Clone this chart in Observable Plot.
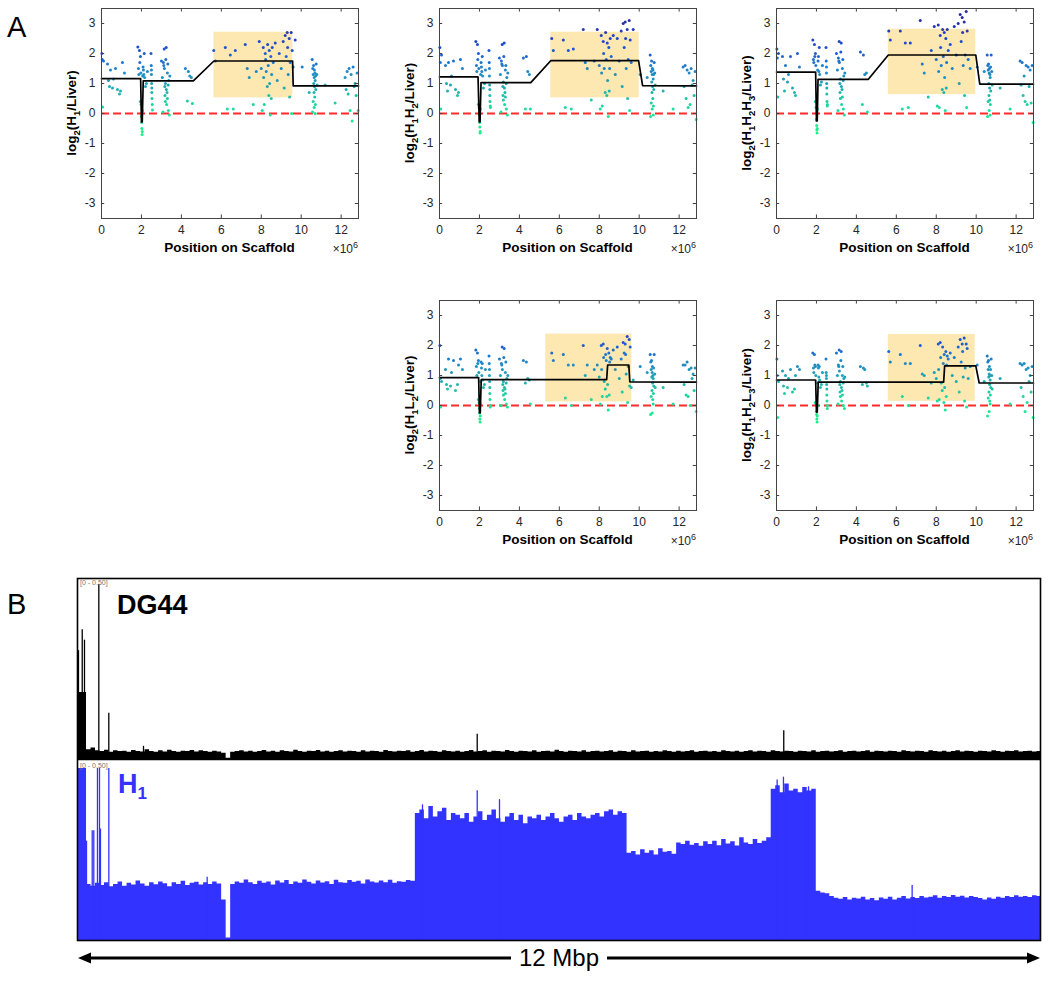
<!DOCTYPE html>
<html><head><meta charset="utf-8">
<script src="https://cdn.jsdelivr.net/npm/d3@7"></script>
<script src="https://cdn.jsdelivr.net/npm/@observablehq/plot@0.6"></script>
<style>
body{margin:0;background:#fff;}
#root{position:relative;width:1050px;height:981px;overflow:hidden;font-family:"Liberation Sans",Arial,sans-serif;background:#fff;}
</style></head><body><div id="root"></div><script>
// ---------- Panel A data ----------
const xTicks = [0, 2, 4, 6, 8, 10, 12];
const yTicks = [-3, -2, -1, 0, 1, 2, 3];
const probeX = [
 0.02,0.04,0.06,0.10,
 0.30,0.35,0.40,0.45,0.55,0.60,0.70,0.80,0.90,0.95,1.05,1.15,
 1.82,1.85,1.87,1.90,1.92,1.94,1.95,1.97,1.98,2.00,2.01,2.02,2.03,2.04,2.05,2.06,2.08,2.10,2.12,2.14,2.16,2.20,2.25,2.30,
 2.48,2.49,2.50,2.50,2.51,2.52,2.52,2.53,2.54,2.55,
 3.00,3.05,3.08,3.10,3.12,3.14,3.15,3.17,3.18,3.20,3.20,3.22,3.24,3.25,3.26,3.28,3.30,3.30,3.32,3.34,3.35,3.37,3.40,3.42,
 4.20,4.30,4.35,4.42,4.50,4.55,
 5.62,5.70,6.20,6.30,6.45,6.60,6.70,7.20,7.30,7.40,7.60,7.75,
 7.90,8.00,8.05,8.10,8.12,8.15,8.20,8.22,8.25,8.30,8.32,8.35,8.38,8.40,8.42,8.45,8.48,8.50,8.52,8.55,8.60,8.70,8.80,8.90,9.00,9.10,9.15,9.20,9.25,9.30,9.32,9.35,9.40,9.42,9.45,9.50,9.52,9.55,9.60,9.70,
 10.05,10.40,10.55,10.57,10.58,10.60,10.60,10.62,10.63,10.64,10.65,10.65,10.66,10.67,10.68,10.69,10.70,10.70,10.71,10.72,10.73,10.75,10.78,10.80,
 11.20,11.70,
 12.20,12.25,12.30,12.35,12.40,12.45,12.50,12.55,12.60,12.65,12.70,12.75,12.80,12.85
];
const yH1 = [
 2.0,1.8,0.22,1.75,
 1.65,1.1,0.9,1.45,0.85,1.15,1.5,0.8,0.65,0.75,1.7,1.35,
 2.22,1.5,1.3,2.1,1.7,0.4,1.9,1.35,0.3,-0.1,-0.3,-0.5,-0.7,-0.6,0.1,1.25,1.55,1.45,1.3,2.0,1.2,0.9,1.0,1.4,
 2.0,1.6,1.45,1.3,1.0,0.85,0.7,0.5,0.3,0.12,
 1.75,1.2,0.05,1.7,1.6,2.15,1.5,0.9,0.6,1.0,0.4,1.8,2.2,0.8,0.3,0.7,1.35,0.5,1.65,0.95,0.1,1.1,-0.05,1.25,
 1.5,0.42,1.4,1.25,1.2,0.33,
 2.1,1.75,2.2,0.15,1.95,0.15,2.1,2.3,1.5,1.2,0.3,1.4,
 2.4,1.5,0.1,2.2,1.2,0.3,2.0,1.8,1.4,0.9,2.3,1.6,0.6,2.1,1.0,-0.05,1.9,0.5,1.3,2.2,1.7,2.35,1.1,2.0,1.5,2.4,0.85,2.6,1.9,2.7,2.2,1.3,2.5,0.55,1.7,2.7,0.0,2.1,1.55,2.45,
 1.55,0.7,1.8,0.05,1.5,1.3,0.4,1.6,1.0,0.7,1.2,0.2,1.45,0.9,0.55,1.35,0.0,1.1,0.3,1.25,0.8,1.65,1.3,0.95,
 0.95,0.35,
 1.2,0.8,1.4,0.65,1.5,0.1,1.3,-0.25,1.55,0.9,1.0,0.6,1.35,0.1
];
const yH1H2 = [
 2.2,1.7,0.15,1.95,
 1.6,1.0,0.75,1.7,0.95,1.25,1.75,0.8,0.6,0.7,1.8,1.5,
 2.4,1.6,1.4,2.3,1.8,0.3,2.0,1.5,0.2,-0.05,-0.3,-0.45,-0.65,-0.6,0.15,1.3,1.7,1.55,1.4,1.9,1.25,0.85,1.0,1.45,
 2.1,1.7,1.5,1.25,0.95,0.8,0.6,0.4,0.25,0.2,
 1.85,1.3,0.05,1.75,1.65,2.3,1.6,0.9,0.6,1.05,0.45,1.9,2.35,0.85,0.3,0.7,1.45,0.55,1.6,1.0,0.15,1.2,-0.05,1.35,
 1.85,0.15,1.9,1.4,1.3,0.15,
 2.5,2.1,2.45,0.2,2.1,0.15,2.15,2.8,1.7,1.5,0.45,1.75,
 2.8,1.6,0.15,2.6,1.35,0.25,2.4,2.0,1.5,0.7,2.7,1.8,0.6,2.35,1.1,-0.1,2.2,0.75,1.5,2.5,1.9,2.6,1.3,2.5,1.75,2.75,0.9,3.0,2.2,3.05,2.5,1.5,2.8,0.5,1.8,3.1,0.1,2.45,1.7,2.8,
 1.3,1.2,1.95,-0.1,1.6,1.4,0.35,1.75,1.05,0.7,1.3,0.15,1.5,0.9,0.5,1.45,-0.05,1.15,0.25,1.3,0.8,1.7,1.35,0.95,
 0.75,0.15,
 1.55,0.9,1.6,0.5,1.45,0.2,1.35,0.3,1.5,0.95,1.1,0.6,1.4,-0.2
];
const yH1H2H3 = [
 2.15,1.85,0.55,2.0,
 1.9,1.15,0.75,1.6,1.05,1.3,1.9,0.85,0.7,0.6,2.0,1.55,
 2.45,1.8,1.7,2.3,1.9,0.4,2.0,1.6,0.2,-0.2,-0.4,-0.55,-0.65,-0.5,0.15,1.45,1.75,1.9,1.4,2.2,1.3,0.95,1.05,1.6,
 2.2,1.75,1.55,1.35,1.0,0.85,0.65,0.4,0.25,0.3,
 2.0,1.45,0.1,1.85,1.75,2.4,1.7,1.0,0.7,1.15,0.5,2.05,2.35,0.9,0.3,0.8,1.5,0.55,1.8,1.1,0.15,1.25,-0.05,1.35,
 2.05,0.3,1.95,1.3,1.35,0.05,
 2.75,2.45,2.75,0.15,2.35,0.2,2.35,3.1,1.65,1.35,0.55,2.1,
 2.9,1.8,0.25,2.95,1.4,0.2,2.6,2.2,1.6,0.8,2.8,1.9,0.7,2.7,1.2,0.1,2.5,0.85,1.7,2.8,2.1,2.3,1.5,2.9,1.95,3.0,1.0,3.3,2.4,3.2,2.7,1.6,3.05,0.6,1.95,3.4,0.2,2.75,1.8,1.5,
 1.55,1.4,1.95,-0.1,1.6,1.45,0.4,1.65,1.0,0.6,1.35,0.1,1.5,0.85,0.45,1.3,-0.05,1.2,0.3,1.55,0.75,1.95,1.4,0.95,
 0.85,0.15,
 1.75,0.95,1.7,0.6,1.25,0.4,1.6,0.3,1.55,0.9,1.45,0.35,1.6,-0.3
];
const yH1L2 = [
 2.0,0.9,-0.05,0.8,
 1.2,0.7,0.55,1.55,0.65,1.1,1.5,0.5,0.7,1.35,1.55,1.2,
 1.85,1.3,1.0,1.75,1.4,0.2,1.5,1.1,0.1,-0.1,-0.25,-0.45,-0.55,-0.35,0.05,0.8,1.45,1.25,1.0,1.4,0.85,0.6,0.7,1.2,
 1.65,1.4,1.2,1.0,0.8,0.6,0.4,0.2,-0.05,0.0,
 1.55,1.0,0.0,1.4,1.35,1.95,1.2,0.7,0.5,0.8,0.35,1.6,1.9,0.6,0.2,0.55,1.1,0.4,1.45,0.75,0.05,0.9,-0.05,1.0,
 1.5,0.75,1.45,0.9,0.85,0.05,
 1.75,1.5,1.7,0.25,1.35,0.0,1.35,2.0,1.0,1.35,0.2,1.2,
 1.35,0.95,0.05,2.0,1.2,0.3,2.05,1.6,0.8,0.55,1.7,1.5,0.3,1.9,0.7,-0.15,1.75,0.35,1.45,1.6,1.55,1.85,1.2,1.95,0.9,1.55,0.45,2.1,1.75,2.05,1.7,1.05,2.3,0.1,1.3,2.2,0.65,1.95,0.6,0.85,
 1.3,1.1,1.7,-0.3,1.45,1.2,0.3,1.5,0.95,0.5,1.1,-0.25,1.3,0.75,0.2,1.0,0.05,0.9,0.4,1.25,0.65,1.7,1.05,0.6,
 0.6,0.05,
 1.35,0.7,1.35,0.35,1.45,0.3,1.2,0.0,1.25,0.9,1.05,0.5,1.25,-0.2
];
const yH1H2L3 = [
 1.55,1.0,-0.4,0.8,
 1.15,0.65,0.4,1.0,0.6,0.9,1.2,0.45,0.55,1.0,1.3,1.2,
 1.75,1.25,1.1,1.7,1.35,0.1,1.3,1.0,0.05,-0.2,-0.3,-0.45,-0.55,-0.35,0.0,0.75,1.35,1.25,0.95,1.3,0.85,0.6,0.7,1.1,
 1.55,1.1,1.0,0.9,0.7,0.55,0.35,0.15,-0.1,0.0,
 1.75,1.0,0.05,1.35,1.3,1.85,1.15,0.7,0.45,0.8,0.3,1.5,1.8,0.6,0.15,0.5,1.0,0.35,1.3,0.75,0.0,0.9,-0.1,0.95,
 1.3,0.7,1.25,1.2,0.75,0.65,
 1.8,1.45,1.7,0.3,1.4,0.0,1.4,2.0,1.05,1.0,0.25,0.75,
 1.1,0.9,0.15,2.05,1.2,0.2,2.1,1.6,0.75,0.5,1.95,1.4,0.1,1.7,0.6,-0.15,1.8,0.3,1.35,1.65,1.55,1.75,1.0,1.6,0.8,1.95,0.45,2.2,1.45,2.05,1.8,0.95,2.25,0.15,1.25,2.05,-0.05,1.9,0.9,1.3,
 1.35,0.8,1.65,-0.35,1.45,1.2,0.25,1.5,0.95,0.45,1.05,-0.2,1.3,0.7,0.15,1.0,0.05,0.85,0.35,1.2,0.6,1.55,1.0,0.55,
 0.9,0.05,
 1.4,0.6,1.35,0.3,1.4,-0.2,1.2,0.1,1.25,0.8,1.0,0.45,1.3,-0.4
];
// segmentation lines (breakpoints, Mb / log2 ratio)
const seg1X = [0,1.96,2.0,2.04,2.09,4.6,5.63,9.57,9.6,12.87];
const seg1Y = [1.16,1.16,-0.28,-0.28,1.09,1.09,1.75,1.75,0.92,0.92];
const seg2X = [0,1.93,1.99,2.03,2.08,4.57,5.57,9.97,10.17,12.87];
const seg2Y = [1.22,1.22,-0.28,-0.28,1.03,1.03,1.76,1.76,0.93,0.92];
const seg3X = [0,1.96,2.0,2.04,2.08,4.6,5.6,9.98,10.18,12.87];
const seg3Y = [1.38,1.38,-0.25,-0.25,1.14,1.14,1.95,1.95,0.98,0.98];
const seg4X = [0,1.96,2.0,2.04,2.09,8.37,8.42,9.48,9.53,12.87];
const seg4Y = [0.93,0.93,-0.25,-0.25,0.86,0.86,1.35,1.35,0.79,0.78];
const seg5X = [0,1.96,2.0,2.04,2.09,8.37,8.42,9.98,10.15,12.87];
const seg5Y = [0.85,0.85,-0.22,-0.22,0.78,0.78,1.32,1.32,0.75,0.75];
// highlighted regions [x1, x2, y1, y2]
const box1 = [5.63, 9.58, 0.52, 2.71];
const box2 = [5.57, 10.0, 0.52, 2.71];
const box3 = [5.6, 9.98, 0.63, 2.81];
const box4 = [5.32, 9.63, 0.12, 2.38];
const box5 = [5.6, 9.95, 0.14, 2.37];
const colorDomain = [-0.6, 0.2, 0.9, 1.5, 2.2, 3.2];
const colorRange = ["#1ef08c", "#1fdc9c", "#1fa8b4", "#1f82c8", "#1f4fd2", "#2a2a9e"];

// ---------- Panel B data ----------
const BIN = 0.06; // Mb per bin
const h1Bins = [
 .5,.5,.165,.16,.168,.162,.17,.158,.165,.172,
 .16,.168,.163,.175,.166,.16,.17,.164,.172,.167,
 .158,.17,.165,.174,.162,.168,.171,.163,.17,.165,
 .172,.166,.12,.01,.165,.172,.168,.178,.17,.165,
 .174,.168,.172,.163,.175,.169,.176,.165,.172,.168,
 .178,.171,.166,.175,.169,.173,.165,.177,.17,.168,
 .176,.171,.174,.166,.178,.172,.169,.175,.17,.177,
 .168,.173,.171,.176,.174,.37,.38,.355,.39,.36,
 .375,.385,.35,.37,.365,.355,.37,.345,.36,.375,
 .35,.365,.38,.355,.345,.36,.37,.35,.365,.34,
 .36,.355,.365,.35,.36,.37,.355,.345,.36,.365,
 .35,.37,.36,.355,.365,.37,.36,.375,.38,.365,
 .375,.37,.255,.26,.25,.265,.255,.262,.25,.268,
 .258,.26,.252,.285,.28,.29,.278,.283,.275,.288,
 .28,.29,.277,.295,.282,.288,.276,.3,.285,.28,
 .295,.283,.29,.3,.44,.45,.43,.455,.435,.44,
 .43,.445,.435,.44,.145,.14,.138,.13,.125,.122,
 .127,.12,.125,.123,.128,.12,.124,.118,.126,.122,
 .128,.12,.125,.13,.123,.127,.124,.13,.126,.128,
 .132,.125,.13,.127,.133,.128,.131,.126,.13,.127,
 .124,.12,.126,.122,.128,.125,.13,.127,.132,.128,
 .13,.127,.132,.13
];
const dgBins = [
 .19,.19,.025,.03,.022,.02,.024,.018,.022,.02,
 .021,.018,.023,.02,.019,.025,.02,.018,.022,.019,
 .024,.02,.018,.021,.02,.023,.019,.022,.02,.018,
 .021,.019,.015,0,.018,.02,.022,.019,.021,.018,
 .02,.023,.019,.021,.018,.022,.02,.019,.024,.02,
 .018,.021,.02,.023,.019,.021,.018,.02,.022,.019,
 .021,.02,.018,.022,.019,.021,.02,.018,.023,.02,
 .019,.021,.02,.022,.018,.02,.023,.019,.021,.02,
 .018,.022,.02,.019,.021,.018,.02,.023,.019,.02,
 .022,.018,.021,.02,.019,.023,.02,.018,.021,.02,
 .019,.022,.018,.02,.021,.019,.024,.02,.018,.021,
 .02,.019,.022,.018,.02,.021,.019,.02,.022,.018,
 .021,.02,.018,.022,.019,.02,.021,.018,.02,.019,
 .022,.02,.018,.021,.019,.02,.022,.018,.02,.021,
 .019,.02,.018,.022,.02,.019,.021,.018,.02,.022,
 .019,.021,.02,.018,.022,.02,.019,.021,.02,.018,
 .021,.02,.019,.022,.018,.02,.021,.019,.02,.022,
 .018,.02,.021,.019,.02,.022,.018,.021,.02,.019,
 .021,.02,.018,.022,.02,.019,.021,.02,.018,.022,
 .02,.019,.021,.018,.02,.022,.019,.021,.02,.018,
 .021,.02,.019,.022,.02,.018,.021,.02,.022,.019,
 .02,.021,.019,.02
];
const dgSpikeX = [0.013, 0.063, 0.093, 0.284, 0.417, 0.879, 5.324, 9.407];
const dgSpikeV = [0.31, 0.37, 0.34, 0.5, 0.13, 0.035, 0.07, 0.08];
const h1SpikeX = [0.12, 0.196, 0.217, 0.266, 0.293, 0.306, 0.417, 1.727, 4.595, 5.324, 5.621, 9.319, 9.403, 9.737, 11.117];
const h1SpikeV = [0.29, 0.32, 0.32, 0.5, 0.5, 0.325, 0.5, 0.186, 0.395, 0.436, 0.41, 0.467, 0.475, 0.447, 0.162];

// ---------- layout ----------
const root = document.getElementById("root");
const FONT = "'Liberation Sans', Arial, Helvetica, sans-serif";
const FW = 257, FH = 210, XMAX = 12.87;
const AX = "#444";

function scatterPanel(cfg) {
  const data = probeX.map((x, i) => ({x, y: cfg.ys[i]})).filter(d => d.y != null);
  const seg = cfg.segX.map((x, i) => ({x, y: cfg.segY[i]}));
  const ml = 36, mr = 6, mt = 6, mb = 26;
  const svg = Plot.plot({
    width: FW + ml + mr, height: FH + mt + mb,
    marginLeft: ml, marginRight: mr, marginTop: mt, marginBottom: mb,
    x: {domain: [0, XMAX]},
    y: {domain: [-3.5, 3.5]},
    color: {type: "linear", domain: colorDomain, range: colorRange, clamp: true},
    style: {fontFamily: FONT, fontSize: "12px", color: "#262626", background: "transparent", overflow: "visible"},
    marks: [
      Plot.rect([cfg.box], {x1: d => d[0], x2: d => d[1], y1: d => d[2], y2: d => d[3], fill: "#fde8b2"}),
      Plot.ruleY([0], {stroke: "#ff2a2a", strokeWidth: 2, strokeDasharray: "8,4"}),
      Plot.dot(data, {x: "x", y: "y", fill: "y", r: 1.5}),
      Plot.line(seg, {x: "x", y: "y", stroke: "#000", strokeWidth: 1.7}),
      Plot.frame({stroke: AX, strokeWidth: 1}),
      Plot.ruleX(xTicks, {x: d => d, y1: -3.5, y2: -3.38, stroke: AX}),
      Plot.ruleX(xTicks, {x: d => d, y1: 3.5, y2: 3.38, stroke: AX}),
      Plot.ruleY(yTicks, {y: d => d, x1: 0, x2: 0.16, stroke: AX}),
      Plot.ruleY(yTicks, {y: d => d, x1: XMAX, x2: XMAX - 0.16, stroke: AX}),
      Plot.axisX(xTicks, {tickSize: 0, tickPadding: 7, label: null, tickFormat: d => String(d)}),
      Plot.axisY(yTicks, {tickSize: 0, tickPadding: 6, label: null, tickFormat: d => String(d)})
    ]
  });
  svg.style.position = "absolute";
  svg.style.left = (cfg.left - ml) + "px";
  svg.style.top = (cfg.top - mt) + "px";
  root.appendChild(svg);
}

const panels = [
  {left: 101, top: 8, ys: yH1, segX: seg1X, segY: seg1Y, box: box1,
   label: [["log",0],["2",1],["(H",0],["1",1],["/Liver)",0]]},
  {left: 439, top: 8, ys: yH1H2, segX: seg2X, segY: seg2Y, box: box2,
   label: [["log",0],["2",1],["(H",0],["1",1],["H",0],["2",1],["/Liver)",0]]},
  {left: 776, top: 8, ys: yH1H2H3, segX: seg3X, segY: seg3Y, box: box3,
   label: [["log",0],["2",1],["(H",0],["1",1],["H",0],["2",1],["H",0],["3",1],["/Liver)",0]]},
  {left: 439, top: 300, ys: yH1L2, segX: seg4X, segY: seg4Y, box: box4,
   label: [["log",0],["2",1],["(H",0],["1",1],["L",0],["2",1],["/Liver)",0]]},
  {left: 776, top: 300, ys: yH1H2L3, segX: seg5X, segY: seg5Y, box: box5,
   label: [["log",0],["2",1],["(H",0],["1",1],["H",0],["2",1],["L",0],["3",1],["/Liver)",0]]}
];
panels.forEach(scatterPanel);

// ---------- Panel B tracks ----------
const BMAX = h1Bins.length * BIN;
function track(cfg) {
  const pts = cfg.bins.map((v, i) => ({x: i * BIN, v}));
  pts.push({x: cfg.bins.length * BIN, v: cfg.bins[cfg.bins.length - 1]});
  const spikes = cfg.spX.map((x, i) => ({x, v: cfg.spV[i]}));
  const svg = Plot.plot({
    width: 964, height: cfg.h,
    marginLeft: 0, marginRight: 0, marginBottom: 0, marginTop: cfg.mt,
    x: {domain: [0, BMAX], axis: null},
    y: {domain: [0, 0.5], axis: null, clamp: true},
    style: {background: "transparent", overflow: "visible"},
    marks: [
      Plot.areaY(pts, {x: "x", y: "v", curve: "step-after", fill: cfg.color}),
      Plot.ruleX(spikes, {x: "x", y1: 0, y2: "v", stroke: cfg.color, strokeWidth: 1.3})
    ]
  });
  svg.style.position = "absolute";
  svg.style.left = "77px";
  svg.style.top = cfg.top + "px";
  root.appendChild(svg);
}
track({bins: dgBins, spX: dgSpikeX, spV: dgSpikeV, color: "#000", top: 578, h: 180, mt: 6});
track({bins: h1Bins, spX: h1SpikeX, spV: h1SpikeV, color: "#3333ff", top: 760, h: 181, mt: 8});

// ---------- overlay text & frames ----------
const ov = d3.create("svg").attr("width", 1050).attr("height", 981)
  .style("position", "absolute").style("left", "0px").style("top", "0px")
  .style("pointer-events", "none").attr("font-family", FONT);

function rich(sel, parts, size, subSize, shift) {
  parts.forEach(([t, k], i) => {
    const prev = i > 0 ? parts[i - 1][1] : 0;
    let dy = 0;
    if (k === 1 && prev === 0) dy = shift;
    else if (k === 2 && prev === 0) dy = -shift;
    else if (k === 0 && prev === 1) dy = -shift;
    else if (k === 0 && prev === 2) dy = shift;
    sel.append("tspan").attr("dy", dy).attr("font-size", k ? subSize : size).text(t);
  });
}

panels.forEach(p => {
  const cx = p.left + FW / 2, cy = p.top + FH / 2;
  const yl = ov.append("text").attr("transform", `translate(${p.left - 25},${cy}) rotate(-90)`)
    .attr("text-anchor", "middle").attr("font-weight", "bold").attr("fill", "#000");
  rich(yl, p.label, 13.5, 9.5, 3.5);
  ov.append("text").attr("x", cx).attr("y", p.top + FH + 34).attr("text-anchor", "middle")
    .attr("font-weight", "bold").attr("font-size", 13.5).attr("fill", "#000").text("Position on Scaffold");
  const ex = ov.append("text").attr("x", p.left + FW).attr("y", p.top + FH + 35)
    .attr("text-anchor", "end").attr("fill", "#262626");
  rich(ex, [["×10", 0], ["6", 2]], 12, 9, 5);
});

ov.append("text").attr("x", 7).attr("y", 37).attr("font-size", 29).attr("fill", "#000").text("A");
ov.append("text").attr("x", 7).attr("y", 614).attr("font-size", 29).attr("fill", "#000").text("B");

// track frame
ov.append("rect").attr("x", 77.5).attr("y", 578.5).attr("width", 963).attr("height", 362)
  .attr("fill", "none").attr("stroke", "#000").attr("stroke-width", 1.6);
ov.append("line").attr("x1", 77).attr("x2", 1041).attr("y1", 759).attr("y2", 759)
  .attr("stroke", "#000").attr("stroke-width", 2.5);
ov.append("text").attr("x", 80).attr("y", 585).attr("font-size", 7).attr("fill", "#777").text("[0 - 0.50]");
ov.append("text").attr("x", 80).attr("y", 768).attr("font-size", 7).attr("fill", "#777").text("[0 - 0.50]");
ov.append("text").attr("x", 117).attr("y", 614).attr("font-size", 27).attr("font-weight", "bold")
  .attr("fill", "#000").text("DG44");
const h1t = ov.append("text").attr("x", 118).attr("y", 793).attr("font-weight", "bold").attr("fill", "#3333ff");
rich(h1t, [["H", 0], ["1", 1]], 27, 17, 6);

// scale arrow
const ay = 958;
ov.append("line").attr("x1", 86).attr("x2", 511).attr("y1", ay).attr("y2", ay).attr("stroke", "#000").attr("stroke-width", 3);
ov.append("line").attr("x1", 607).attr("x2", 1032).attr("y1", ay).attr("y2", ay).attr("stroke", "#000").attr("stroke-width", 3);
ov.append("path").attr("d", `M78,${ay} L91,${ay - 5.5} L91,${ay + 5.5} Z`).attr("fill", "#000");
ov.append("path").attr("d", `M1040,${ay} L1027,${ay - 5.5} L1027,${ay + 5.5} Z`).attr("fill", "#000");
ov.append("text").attr("x", 559).attr("y", 966).attr("text-anchor", "middle").attr("font-size", 24)
  .attr("fill", "#000").text("12 Mbp");

root.appendChild(ov.node());
</script></body></html>
